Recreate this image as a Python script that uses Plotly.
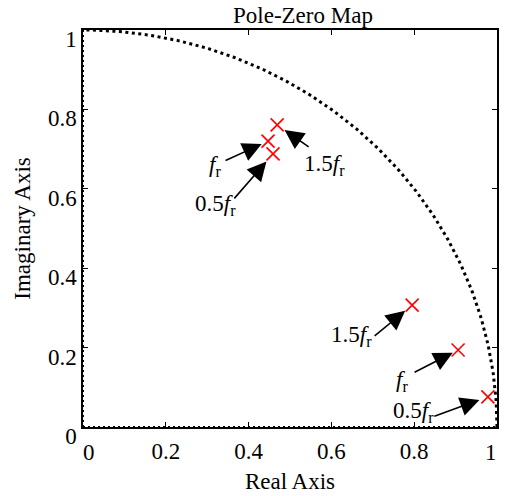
import numpy as np
import plotly.graph_objects as go

# Pole locations (real, imaginary)
pole_re = [0.469, 0.447, 0.459, 0.795, 0.906, 0.978]
pole_im = [0.761, 0.720, 0.688, 0.307, 0.194, 0.076]
# Labels attached to each pole
pole_labels = ["1.5", "", "0.5", "1.5", "", "0.5"]

x_ticks = [0, 0.2, 0.4, 0.6, 0.8, 1]
x_tick_text = ["0", "0.2", "0.4", "0.6", "0.8", "1"]
y_ticks = [0, 0.2, 0.4, 0.6, 0.8, 1]
y_tick_text = ["0", "0.2", "0.4", "0.6", "0.8", "1"]

FONT = "Liberation Serif"
FS = 23

fig = go.Figure()

# unit circle arc (stability boundary)
th = np.linspace(0, np.pi / 2, 200)
fig.add_trace(go.Scatter(x=np.cos(th), y=np.sin(th), mode="lines",
                         line=dict(color="black", width=3, dash="3px,3.5px"),
                         hoverinfo="skip", showlegend=False))
# real / imaginary axes dotted
fig.add_trace(go.Scatter(x=[0, 1], y=[0, 0], mode="lines",
                         line=dict(color="black", width=2, dash="2px,3px"),
                         showlegend=False, cliponaxis=False))
fig.add_trace(go.Scatter(x=[0, 0], y=[0, 1], mode="lines",
                         line=dict(color="black", width=2, dash="2px,3px"),
                         showlegend=False, cliponaxis=False))

# poles
fig.add_trace(go.Scatter(x=pole_re, y=pole_im, mode="markers",
                         marker=dict(symbol="x-thin", size=13, color="red",
                                     line=dict(color="red", width=1.6)),
                         showlegend=False, cliponaxis=False))

# arrow tails (pixel offsets from pole), standoff, label offsets
arrow_ax = [33, -44, -40, -39, -45, -55]
arrow_ay = [23, 20, 46, 32, 23, 20]
arrow_so = [9, 7, 10, 9, 6, 9]
lab_dx = [47, -53, -58, -61, -56, -74]
lab_dy = [-40, -25, -51, -31, -31, -15]

annotations = []
for i in range(len(pole_re)):
    annotations.append(dict(x=pole_re[i], y=pole_im[i], xref="x", yref="y",
                            text="", showarrow=True, ax=arrow_ax[i], ay=arrow_ay[i],
                            axref="pixel", ayref="pixel", standoff=arrow_so[i],
                            arrowhead=2, arrowsize=2.4, arrowwidth=1.6,
                            arrowcolor="black"))
    txt = pole_labels[i] + "<i>f</i><sub>r</sub>"
    annotations.append(dict(x=pole_re[i], y=pole_im[i], xref="x", yref="y",
                            text=txt, showarrow=False,
                            xshift=lab_dx[i], yshift=lab_dy[i],
                            font=dict(family=FONT, size=FS, color="black")))

# end x tick labels (kept inside the axis span, as in the reference)
end_shift = {0: 6, len(x_ticks) - 1: -6}
for idx, sh in end_shift.items():
    annotations.append(dict(x=x_ticks[idx], y=0, xref="x", yref="paper",
                            text=x_tick_text[idx], showarrow=False,
                            xshift=sh, yshift=-25, yanchor="middle",
                            font=dict(family=FONT, size=FS, color="black")))

annotations.append(dict(x=0.531, y=1.0, xref="paper", yref="paper",
                        yanchor="bottom", yshift=0, text="Pole-Zero Map",
                        showarrow=False, font=dict(family=FONT, size=FS, color="black")))

shown_x_text = [t if 0 < k < len(x_ticks) - 1 else "" for k, t in enumerate(x_tick_text)]

fig.update_layout(
    width=505, height=496,
    margin=dict(l=83, r=8, t=30, b=69, autoexpand=False),
    paper_bgcolor="white", plot_bgcolor="white",
    font=dict(family=FONT, size=FS, color="black"),
    annotations=annotations,
    xaxis=dict(range=[0, 1], tickvals=x_ticks, ticktext=shown_x_text,
               ticks="inside", ticklen=5, tickwidth=1, tickcolor="black",
               showline=True, linecolor="black", linewidth=1.5, mirror="ticks",
               showgrid=False, zeroline=False, ticklabelstandoff=3,
               ticklabeloverflow="allow", automargin=False,
               title=dict(text="Real Axis", standoff=10,
                          font=dict(family=FONT, size=FS))),
    yaxis=dict(range=[0, 1], tickvals=y_ticks, ticktext=y_tick_text,
               ticks="inside", ticklen=5, tickwidth=1, tickcolor="black",
               showline=True, linecolor="black", linewidth=1.5, mirror="ticks",
               showgrid=False, zeroline=False, ticklabelshift=9,
               ticklabeloverflow="allow", automargin=False,
               title=dict(text="Imaginary Axis", standoff=11,
                          font=dict(family=FONT, size=FS))),
)

fig.write_html("out.html")
